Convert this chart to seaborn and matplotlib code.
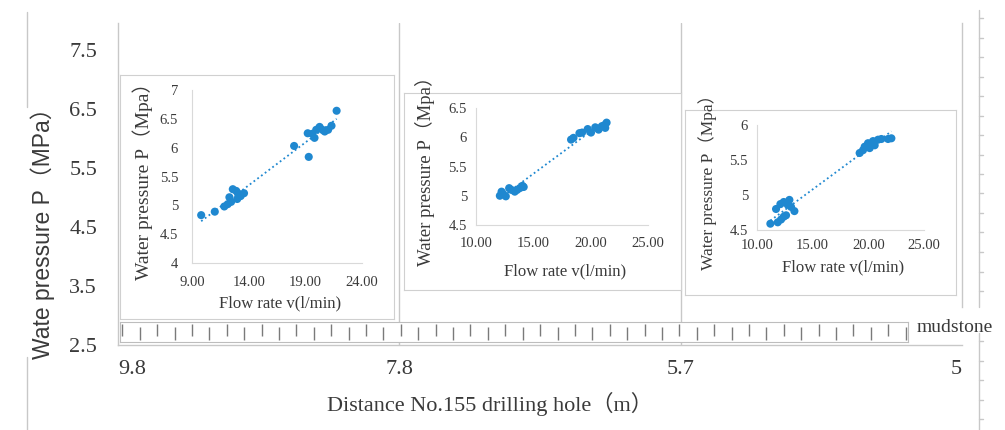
import numpy as np
import matplotlib
matplotlib.use("Agg")
import matplotlib.pyplot as plt
from matplotlib.lines import Line2D
import pandas as pd
import seaborn as sns

# main axis: distance from No.155 drilling hole (categorical positions)
distance_labels = ["9.8", "7.8", "5.7", "5"]
pressure_ticks = [2.5, 3.5, 4.5, 5.5, 6.5, 7.5]

# inset 1 (left)
flow_1 = [9.81, 11.01, 11.85, 12.15, 12.45, 12.30, 12.60, 12.90, 13.05, 12.99, 13.29, 13.59,
          18.01, 19.30, 19.21, 19.60, 19.81, 19.96, 20.26, 20.50, 20.71, 21.01, 21.31, 21.76]
press_1 = [4.83, 4.89, 4.98, 5.02, 5.06, 5.14, 5.28, 5.25, 5.21, 5.11, 5.16, 5.21,
           6.03, 5.84, 6.25, 6.24, 6.17, 6.31, 6.36, 6.31, 6.28, 6.31, 6.38, 6.64]

# inset 2 (middle)
flow_2 = [12.08, 12.23, 12.37, 12.60, 12.89, 13.09, 13.38, 13.58, 13.82, 14.05, 14.16,
          18.29, 18.50, 19.02, 19.25, 19.74, 20.03, 20.40, 20.69, 20.98, 21.27, 21.39]
press_2 = [5.00, 5.07, 5.03, 4.99, 5.13, 5.10, 5.07, 5.10, 5.13, 5.17, 5.15,
           5.96, 5.99, 6.07, 6.08, 6.14, 6.08, 6.17, 6.13, 6.19, 6.16, 6.25]

# inset 3 (right)
flow_3 = [11.20, 11.86, 12.16, 12.40, 12.61, 11.71, 12.10, 12.40, 12.76, 12.91, 13.06, 13.36,
          19.22, 19.52, 19.67, 19.97, 20.12, 20.42, 20.57, 20.87, 21.17, 21.77, 22.07]
press_3 = [4.59, 4.61, 4.65, 4.69, 4.71, 4.80, 4.87, 4.90, 4.86, 4.93, 4.83, 4.77,
           5.60, 5.64, 5.69, 5.74, 5.67, 5.77, 5.71, 5.79, 5.80, 5.80, 5.81]

sns.set_style("white")
serif = ["Liberation Serif", "Noto Sans CJK SC"]
sans = ["Liberation Sans", "Noto Sans CJK SC"]
plt.rcParams["font.family"] = serif

W, H = 1005, 430
GRAY = "#c8c8c8"
TXT = "#3a3a3a"
BLUE = "#1f88d0"

fig = plt.figure(figsize=(W / 100, H / 100), dpi=100)


def box(x0, y0, x1, y1):
    return [x0 / W, 1 - y1 / H, (x1 - x0) / W, (y1 - y0) / H]


def px(x, y):
    return x / W, 1 - y / H


# ---- main axes
ax = fig.add_axes(box(118, 23, 962, 345))
ax.set_xlim(0, 3)
ax.set_ylim(2.5, 7.96)
ax.set_xticks(range(len(distance_labels)))
ax.set_xticklabels(distance_labels, fontsize=16, color=TXT)
ax.set_yticks(pressure_ticks)
ax.set_yticklabels([f"{t:g}" for t in pressure_ticks], fontsize=16, color=TXT)
ax.tick_params(axis="x", length=0, pad=11)
ax.tick_params(axis="y", length=0, pad=15)
xl = ax.get_xticklabels()
xl[0].set_horizontalalignment("left")
xl[-1].set_horizontalalignment("right")
ax.spines["top"].set_visible(False)
for s in ["left", "bottom", "right"]:
    ax.spines[s].set_color(GRAY)
    ax.spines[s].set_linewidth(1)
ax.spines["right"].set_bounds(3.15, 7.96)
for xv in [1, 2]:
    ax.axvline(xv, color=GRAY, lw=1)

fig.text(*px(43, 228), "Wate pressure P（MPa）", rotation=90, ha="center", va="center",
         fontsize=16.5, color=TXT, family=sans)
fig.text(*px(490, 404), "Distance No.155 drilling hole（m）", ha="center", va="center",
         fontsize=16, color=TXT, family=serif)

# decorative frame lines at far left / far right
fig.add_artist(Line2D([27 / W] * 2, [1 - 12 / H, 1 - 107 / H], color=GRAY, lw=1))
fig.add_artist(Line2D([27 / W] * 2, [1 - 357 / H, 0], color=GRAY, lw=1))
for (ya, yb) in [(10, 307), (333, 430)]:
    fig.add_artist(Line2D([979 / W] * 2, [1 - ya / H, 1 - yb / H], color=GRAY, lw=1))
    for yt in np.arange(ya + 8, yb, 19.5):
        fig.add_artist(Line2D([979 / W, 983 / W], [1 - yt / H] * 2, color=GRAY, lw=1))

# ---- mudstone band
band = fig.add_axes(box(120, 322, 908, 342))
band.set_xlim(0, 1)
band.set_ylim(0, 1)
band.set_xticks([])
band.set_yticks([])
for s in band.spines.values():
    s.set_color("#bdbdbd")
xs = np.linspace(0.003, 0.997, 46)
band.vlines(xs[0::2], 0.32, 0.92, color="#7a7a7a", lw=1)
band.vlines(xs[1::2], 0.12, 0.75, color="#7a7a7a", lw=1)
fig.text(*px(917, 328), "mudstone", ha="left", va="center", fontsize=14, color=TXT)


# ---- insets
def inset(frame, inner, flow, press, xlim, ylim, yticks, ytick_pad, xtick_pad,
          ylab_x, xlab_y, ylab_size):
    fr = fig.add_axes(box(*frame))
    fr.set_facecolor("white")
    fr.set_xticks([])
    fr.set_yticks([])
    for s in fr.spines.values():
        s.set_color("#d0d0d0")
    a = fig.add_axes(box(*inner))
    a.patch.set_alpha(0)
    df = pd.DataFrame({"flow": flow, "press": press})
    sns.regplot(data=df, x="flow", y="press", ax=a, scatter=False, ci=None,
                line_kws=dict(color=BLUE, ls=(0, (1, 1.6)), lw=1.3))
    sns.scatterplot(data=df, x="flow", y="press", ax=a, color=BLUE, s=34,
                    edgecolor="none", zorder=3)
    a.set_xlim(*xlim)
    a.set_ylim(*ylim)
    xt = np.arange(xlim[0], xlim[1] + 0.1, 5)
    a.set_xticks(xt)
    a.set_xticklabels([f"{v:.2f}" for v in xt], fontsize=10.5, color=TXT)
    a.set_yticks(yticks)
    a.set_yticklabels([f"{v:g}" for v in yticks], fontsize=10.5, color=TXT)
    a.tick_params(axis="x", length=0, pad=xtick_pad)
    a.tick_params(axis="y", length=0, pad=ytick_pad)
    a.spines["top"].set_visible(False)
    a.spines["right"].set_visible(False)
    a.spines["left"].set_color("#d9d9d9")
    a.spines["bottom"].set_color("#d9d9d9")
    a.set_xlabel("")
    a.set_ylabel("")
    cx = (inner[0] + inner[2]) / 2
    cy = (inner[1] + inner[3]) / 2
    fig.text(*px(cx + 3, xlab_y), "Flow rate v(l/min)", ha="center", va="center",
             fontsize=12, color=TXT)
    fig.text(*px(ylab_x, cy), "Water pressure P（Mpa）", rotation=90, ha="center",
             va="center", fontsize=ylab_size, color=TXT)


inset((120, 75, 394, 319), (192, 90, 362, 263), flow_1, press_1, (9, 24), (4, 7),
      np.arange(4, 7.01, 0.5), 10, 9, 143, 303, 14)
inset((404, 93, 681, 290), (476, 108, 648, 225), flow_2, press_2, (10, 25), (4.5, 6.5),
      np.arange(4.5, 6.51, 0.5), 6.5, 8.5, 425, 271, 13.5)
inset((685, 110, 956, 295), (757, 125, 924, 230), flow_3, press_3, (10, 25), (4.5, 6),
      np.arange(4.5, 6.01, 0.5), 6.5, 6.5, 708, 267, 12.5)

fig.savefig("out.png", dpi=100)
